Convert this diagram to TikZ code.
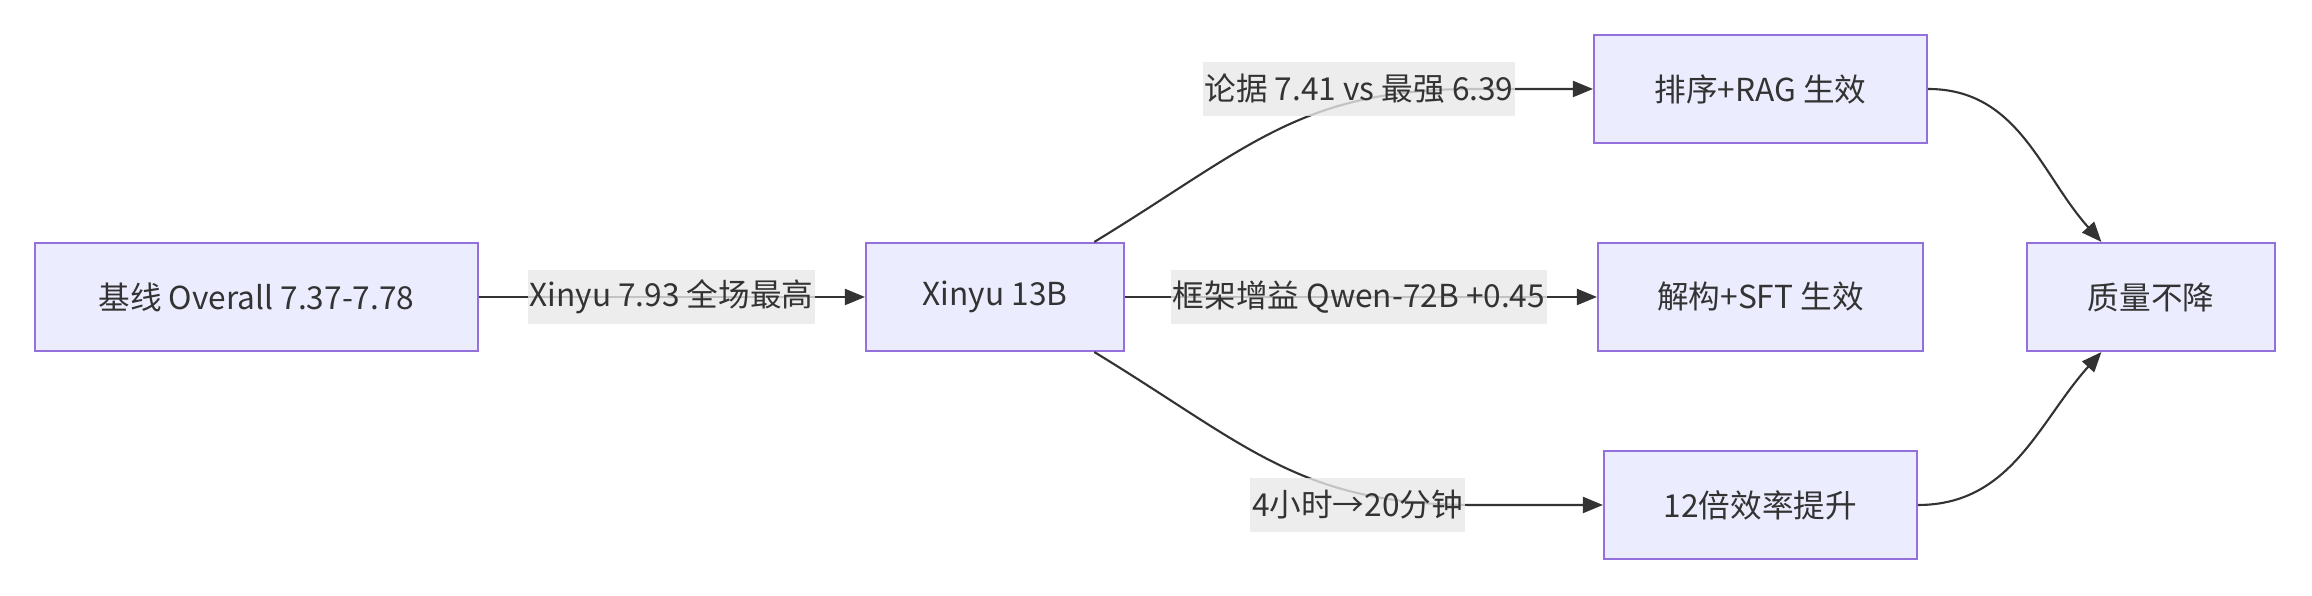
\documentclass[tikz,border=0pt]{standalone}
\usepackage{fontspec}
\setmainfont{Noto Sans CJK SC}
\usetikzlibrary{arrows.meta}
\definecolor{boxfill}{HTML}{ECECFF}
\definecolor{boxline}{HTML}{9370DB}
\definecolor{ink}{HTML}{333333}
\definecolor{tagfill}{HTML}{E8E8E8}

\begin{document}
\begin{tikzpicture}[
  stage/.style={draw=boxline, fill=boxfill, line width=0.6pt, text=ink, minimum height=1.08cm, inner sep=0pt},
  tag/.style={fill=tagfill, fill opacity=0.8, text opacity=1, text=ink, minimum height=0.54cm, inner xsep=0.5pt, inner ysep=0pt},
  link/.style={draw=ink, line width=0.6pt, -{Triangle[length=0.2cm,width=0.16cm]}},
  font=\fontsize{9}{11}\selectfont]
\useasboundingbox (0,0) rectangle (23.12,-5.96);
\node[stage, minimum width=4.43cm] (base) at (2.565,-2.97) {基线 Overall 7.37-7.78};
\node[stage, minimum width=2.58cm] (xinyu) at (9.95,-2.97) {Xinyu 13B};
\node[stage, minimum width=3.33cm] (rag) at (17.605,-0.89) {排序+RAG 生效};
\node[stage, minimum width=3.25cm] (sft) at (17.605,-2.97) {解构+SFT 生效};
\node[stage, minimum width=3.13cm] (eff) at (17.605,-5.05) {12倍效率提升};
\node[stage, minimum width=2.48cm] (quality) at (21.51,-2.97) {质量不降}; % boxes
\draw[link] (base) -- (xinyu);
\draw[link] (xinyu.29) .. controls (12.5,-1.47) and (13.0,-0.89) .. (14.75,-0.89) -- (rag.west);
\draw[link] (xinyu) -- (sft);
\draw[link] (xinyu.-29) .. controls (12.5,-4.47) and (13.0,-5.05) .. (14.75,-5.05) -- (eff.west);
\draw[link] (rag.east) to[out=0,in=132] (quality.132);
\draw[link] (eff.east) to[out=0,in=228] (quality.228); % links
\node[tag] (t1) at (6.715,-2.97) {Xinyu 7.93 全场最高};
\node[tag] (t2) at (13.59,-0.89) {论据 7.41 vs 最强 6.39};
\node[tag] (t3) at (13.59,-2.97) {框架增益 Qwen-72B +0.45};
\node[tag] (t4) at (13.575,-5.05) {4小时→20分钟}; % edge labels
\end{tikzpicture}
\end{document}
